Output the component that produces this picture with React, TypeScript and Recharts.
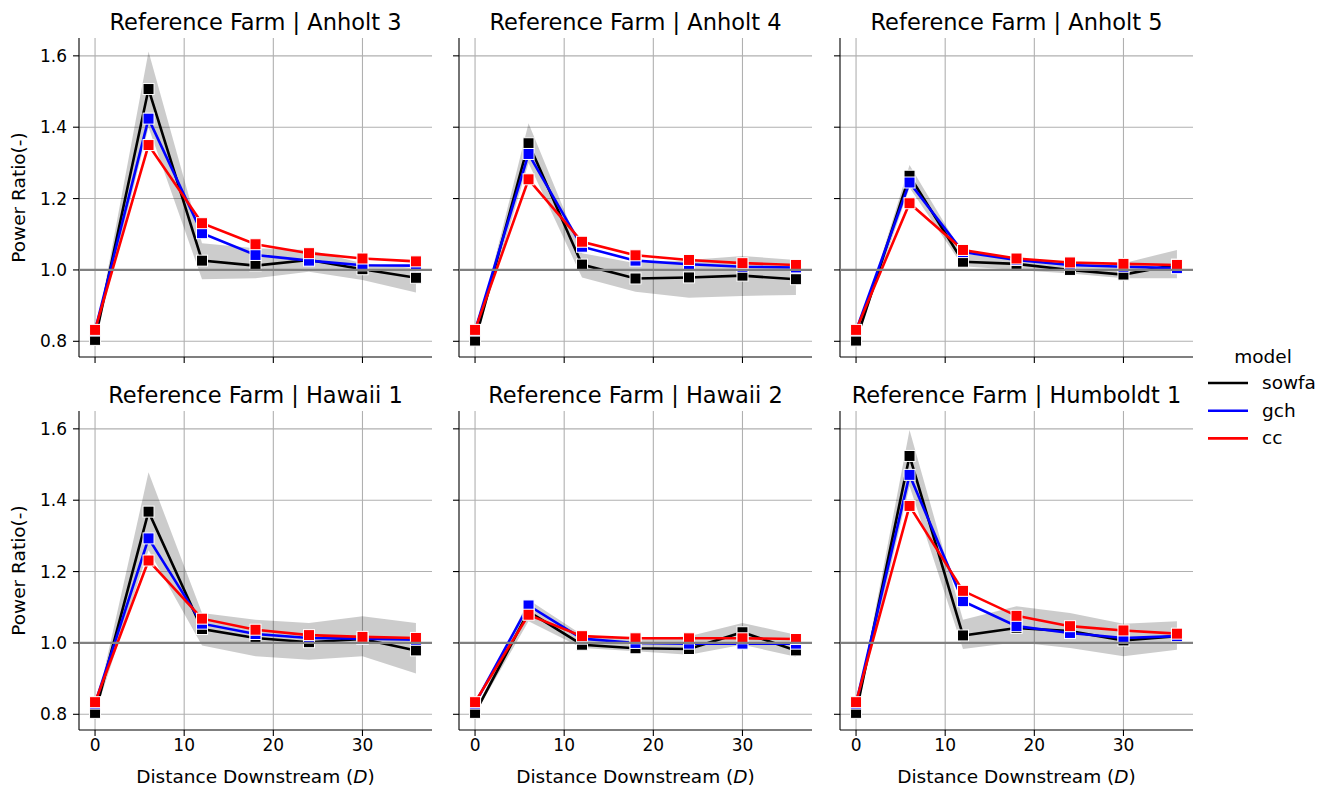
import React from 'react';
import {
  ComposedChart,
  Area,
  Line,
  XAxis,
  YAxis,
  ReferenceLine,
} from 'recharts';

const distances = [0, 6, 12, 18, 24, 30, 36];
const farms = ['Anholt 3', 'Anholt 4', 'Anholt 5', 'Hawaii 1', 'Hawaii 2', 'Humboldt 1'];
const xTicks = [0, 10, 20, 30];
const yTicks = [0.8, 1.0, 1.2, 1.4, 1.6];
const models = ['sowfa', 'gch', 'cc'];

// one row per farm, values at each distance
const sowfa = [
  [0.804, 1.507, 1.026, 1.012, 1.028, 1.002, 0.978],
  [0.802, 1.355, 1.015, 0.976, 0.979, 0.984, 0.974],
  [0.802, 1.264, 1.023, 1.017, 1.0, 0.987, 1.015],
  [0.804, 1.368, 1.039, 1.014, 1.002, 1.011, 0.979],
  [0.804, 1.088, 0.995, 0.985, 0.983, 1.03, 0.979],
  [0.804, 1.524, 1.021, 1.042, 1.033, 1.007, 1.019],
];
const gch = [
  [0.83, 1.424, 1.103, 1.042, 1.026, 1.013, 1.012],
  [0.83, 1.325, 1.065, 1.026, 1.016, 1.009, 1.007],
  [0.83, 1.245, 1.05, 1.028, 1.014, 1.009, 1.005],
  [0.83, 1.293, 1.054, 1.025, 1.014, 1.012, 1.009],
  [0.83, 1.105, 1.012, 1.0, 0.998, 0.998, 0.998],
  [0.83, 1.471, 1.117, 1.047, 1.028, 1.014, 1.019],
];
const cc = [
  [0.832, 1.35, 1.131, 1.072, 1.047, 1.032, 1.024],
  [0.832, 1.254, 1.079, 1.041, 1.028, 1.019, 1.014],
  [0.832, 1.187, 1.056, 1.032, 1.021, 1.017, 1.014],
  [0.834, 1.231, 1.068, 1.037, 1.022, 1.017, 1.014],
  [0.834, 1.079, 1.019, 1.013, 1.013, 1.013, 1.011],
  [0.834, 1.384, 1.146, 1.076, 1.047, 1.035, 1.026],
];
// sowfa confidence band
const sowfaLow = [
  [0.8, 1.4, 0.974, 0.977, 0.995, 0.972, 0.937],
  [0.798, 1.3, 0.979, 0.939, 0.922, 0.927, 0.93],
  [0.798, 1.23, 1.01, 1.0, 0.99, 0.977, 0.977],
  [0.8, 1.26, 0.993, 0.963, 0.953, 0.963, 0.914],
  [0.8, 1.061, 0.986, 0.977, 0.967, 0.995, 0.961],
  [0.8, 1.44, 0.983, 1.002, 0.986, 0.963, 0.981],
];
const sowfaHigh = [
  [0.808, 1.612, 1.075, 1.061, 1.056, 1.019, 1.005],
  [0.806, 1.411, 1.047, 1.019, 1.028, 1.039, 1.028],
  [0.806, 1.294, 1.045, 1.03, 1.02, 1.019, 1.056],
  [0.808, 1.478, 1.084, 1.065, 1.056, 1.075, 1.056],
  [0.808, 1.121, 1.023, 1.009, 1.019, 1.056, 1.023],
  [0.808, 1.597, 1.065, 1.103, 1.084, 1.054, 1.061],
];

const colors: Record<string, string> = { sowfa: '#000000', gch: '#0000ff', cc: '#ff0000' };
const FONT = '"DejaVu Sans", sans-serif';

const PLOT_W = 353;
const PLOT_H = 319;
const Y_AXIS_W = 70;
const TOP_M = 10;
const colLeft = [79, 459, 840];
const rowTop = [38, 411];

const Square = (color: string) => (props: any) => {
  const { cx, cy, index } = props;
  if (cx == null || cy == null) return null;
  return (
    <rect
      key={`sq-${index}`}
      x={cx - 5.5}
      y={cy - 5.5}
      width={11}
      height={11}
      fill={color}
      stroke="#ffffff"
      strokeWidth={1}
    />
  );
};

const Panel = ({ idx }: { idx: number }) => {
  const row = Math.floor(idx / 3);
  const col = idx % 3;
  const data = distances.map((d, i) => ({
    x: d,
    sowfa: sowfa[idx][i],
    gch: gch[idx][i],
    cc: cc[idx][i],
    band: [sowfaLow[idx][i], sowfaHigh[idx][i]],
  }));
  const showX = row === 1;
  const showY = col === 0;
  return (
    <div style={{ position: 'absolute', left: colLeft[col] - Y_AXIS_W, top: rowTop[row] - TOP_M }}>
      <ComposedChart
        width={Y_AXIS_W + PLOT_W + 10}
        height={TOP_M + PLOT_H + 34}
        data={data}
        margin={{ top: TOP_M, right: 10, left: 0, bottom: 0 }}
      >
        {/* grid only at tick values, no frame at the plot edges */}
        {yTicks.map((t) => (
          <ReferenceLine key={`gy-${t}`} y={t} stroke="#b0b0b0" strokeWidth={1.1} zIndex={-100} />
        ))}
        {xTicks.map((t) => (
          <ReferenceLine key={`gx-${t}`} x={t} stroke="#b0b0b0" strokeWidth={1.1} zIndex={-100} />
        ))}
        <XAxis
          dataKey="x"
          type="number"
          domain={[-1.8, 37.8]}
          ticks={xTicks}
          allowDataOverflow
          height={34}
          tickSize={6}
          tickMargin={3}
          stroke="#000"
          strokeWidth={1.1}
          tick={{ fill: '#000', fontSize: 17, fontFamily: FONT }}
          tickFormatter={(v: number) => (showX ? String(v) : '')}
        />
        <YAxis
          type="number"
          domain={[0.756, 1.65]}
          ticks={yTicks}
          allowDataOverflow
          width={Y_AXIS_W}
          tickSize={6}
          tickMargin={6}
          stroke="#000"
          strokeWidth={1.1}
          tick={{ fill: '#000', fontSize: 17, fontFamily: FONT }}
          tickFormatter={(v: number) => (showY ? v.toFixed(1) : '')}
        />
        <Area
          dataKey="band"
          type="linear"
          stroke="none"
          fill="#000000"
          fillOpacity={0.2}
          isAnimationActive={false}
          activeDot={false}
        />
        {models.map((m) => (
          <Line
            key={m}
            dataKey={m}
            type="linear"
            stroke={colors[m]}
            strokeWidth={2.6}
            dot={Square(colors[m])}
            activeDot={false}
            isAnimationActive={false}
          />
        ))}
        <ReferenceLine y={1} stroke="#808080" strokeWidth={2.2} zIndex={1000} />
      </ComposedChart>
    </div>
  );
};

export default function App() {
  return (
    <div style={{ position: 'absolute', left: 0, top: 0, width: 1333, height: 789, background: '#fff' }}>
      {farms.map((_, i) => (
        <Panel key={i} idx={i} />
      ))}
      <svg
        width={1333}
        height={789}
        style={{ position: 'absolute', left: 0, top: 0, pointerEvents: 'none' }}
        fontFamily={FONT}
      >
        {farms.map((f, i) => {
          const row = Math.floor(i / 3);
          const col = i % 3;
          return (
            <text
              key={f}
              x={colLeft[col] + PLOT_W / 2}
              y={rowTop[row] - 8}
              textAnchor="middle"
              fontSize={22.5}
              fill="#000"
            >
              {`Reference Farm | ${f}`}
            </text>
          );
        })}
        {rowTop.map((t) => (
          <text
            key={`yl-${t}`}
            transform={`translate(25, ${t + PLOT_H / 2}) rotate(-90)`}
            textAnchor="middle"
            fontSize={18.5}
            fill="#000"
          >
            Power Ratio(-)
          </text>
        ))}
        {colLeft.map((l) => (
          <text key={`xl-${l}`} x={l + PLOT_W / 2} y={783} textAnchor="middle" fontSize={18.5} fill="#000">
            Distance Downstream (<tspan fontStyle="italic">D</tspan>)
          </text>
        ))}
        <text x={1263} y={363} textAnchor="middle" fontSize={18.5} fill="#000">
          model
        </text>
        {models.map((m, i) => {
          const y = 383 + i * 27.7;
          return (
            <g key={m}>
              <line x1={1208} x2={1248} y1={y} y2={y} stroke={colors[m]} strokeWidth={2.6} />
              <text x={1262} y={y + 6} fontSize={18.5} fill="#000">
                {m}
              </text>
            </g>
          );
        })}
      </svg>
    </div>
  );
}
